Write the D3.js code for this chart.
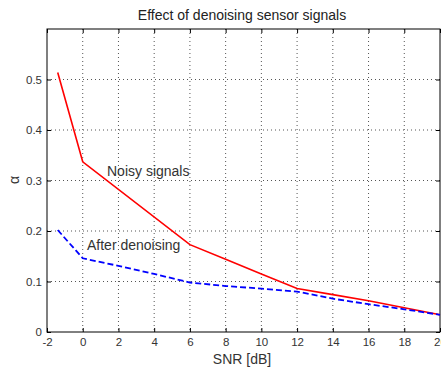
<!DOCTYPE html>
<html><head><meta charset="utf-8">
<script src="https://cdn.jsdelivr.net/npm/d3@7"></script>
<style>body{margin:0;background:#fff}svg{display:block}text{font-family:"Liberation Sans",Arial,sans-serif}</style>
</head><body><svg id="c" width="441" height="370"></svg>
<script>
const xTicks=[-2,0,2,4,6,8,10,12,14,16,18,20];
const yTicks=[0,0.1,0.2,0.3,0.4,0.5];
const noisyX=[-1.4,0,6,8,10,12,14,16,18,20];
const noisyY=[0.514,0.337,0.173,0.144,0.115,0.086,0.074,0.062,0.048,0.034];
const denX=[-1.4,0,2,4,6,8,10,12,14,16,18,20];
const denY=[0.202,0.146,0.131,0.115,0.098,0.091,0.086,0.080,0.066,0.055,0.045,0.034];

const svg=d3.select("#c");
const L=47,R=440,T=29,B=332;
const x=d3.scaleLinear().domain([-2,20]).range([L,R]);
const y=d3.scaleLinear().domain([0,0.6]).range([B,T]);

// grid
const g=svg.append("g");
g.selectAll(".vx").data(xTicks.slice(1,-1)).enter().append("line")
 .attr("x1",d=>x(d)).attr("x2",d=>x(d)).attr("y1",T).attr("y2",B)
 .attr("stroke","#555").attr("stroke-width",1).attr("stroke-dasharray","1,3");
g.selectAll(".hy").data(yTicks.slice(1)).enter().append("line")
 .attr("y1",d=>y(d)).attr("y2",d=>y(d)).attr("x1",L).attr("x2",R)
 .attr("stroke","#555").attr("stroke-width",1).attr("stroke-dasharray","1,3");

// axes
const tc="#333";
const xa=svg.append("g").attr("transform",`translate(0,${B})`)
 .call(d3.axisBottom(x).tickValues(xTicks).tickSize(-4).tickPadding(6).tickFormat(d=>String(d)));
const xt=svg.append("g").attr("transform",`translate(0,${T})`)
 .call(d3.axisTop(x).tickValues(xTicks).tickSize(-4).tickFormat(""));
const ya=svg.append("g").attr("transform",`translate(${L},0)`)
 .call(d3.axisLeft(y).tickValues(yTicks).tickSize(-4).tickPadding(5).tickFormat(d=>d===0?"0":d3.format(".1f")(d)));
const yr=svg.append("g").attr("transform",`translate(${R},0)`)
 .call(d3.axisRight(y).tickValues(yTicks).tickSize(-4).tickFormat(""));
[xa,xt,ya,yr].forEach(a=>{a.select(".domain").remove();a.selectAll("line").attr("stroke","#000");
 a.selectAll("text").attr("fill",tc).style("font-size","11.5px");});
svg.append("rect").attr("x",L).attr("y",T).attr("width",R-L).attr("height",B-T)
 .attr("fill","none").attr("stroke","#000").attr("stroke-width",1);

// lines
const line=d3.line().x(d=>x(d[0])).y(d=>y(d[1]));
svg.append("path").datum(noisyX.map((v,i)=>[v,noisyY[i]])).attr("d",line)
 .attr("fill","none").attr("stroke","#ff0000").attr("stroke-width",1.6);
svg.append("path").datum(denX.map((v,i)=>[v,denY[i]])).attr("d",line)
 .attr("fill","none").attr("stroke","#0000ff").attr("stroke-width",1.8).attr("stroke-dasharray","6,3");

// labels
svg.append("text").attr("x",107).attr("y",176).text("Noisy signals").attr("fill","#333").style("font-size","14px");
svg.append("text").attr("x",87).attr("y",250).text("After denoising").attr("fill","#333").style("font-size","14px");
svg.append("text").attr("x",242).attr("y",20).attr("text-anchor","middle").text("Effect of denoising sensor signals").attr("fill","#222").style("font-size","14px");
svg.append("text").attr("x",242).attr("y",364).attr("text-anchor","middle").text("SNR [dB]").attr("fill","#333").style("font-size","14px");
svg.append("text").attr("transform","translate(19,180) rotate(-90)").attr("text-anchor","middle").text("α").attr("fill","#333").style("font-size","14px");
</script></body></html>
